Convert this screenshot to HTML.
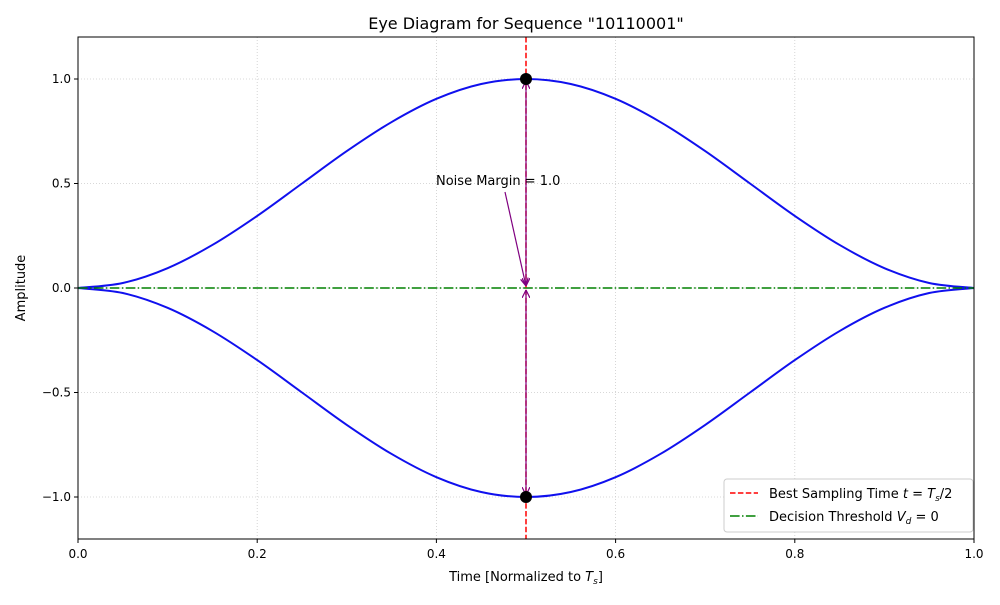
<!DOCTYPE html>
<html><head><meta charset="utf-8"><style>
body{margin:0;background:#fff}
svg text{font-family:"DejaVu Sans","Liberation Sans",sans-serif}
</style></head><body>
<svg id="c" width="1000" height="600" viewBox="0 0 1000 600" xmlns="http://www.w3.org/2000/svg">
<defs>
<marker id="ah" viewBox="0 0 10 10" refX="10" refY="5" markerWidth="8" markerHeight="8" orient="auto-start-reverse" markerUnits="userSpaceOnUse">
<path d="M0,0 L10,5 L0,10" fill="none" stroke="#800080" stroke-width="1.5"/></marker>
</defs>
<rect width="1000" height="600" fill="#fff"/>
<g id="grid"></g>
<g id="plot"></g>
<rect x="78" y="37" width="896" height="502" fill="none" stroke="#000" stroke-width="1"/>
<g id="axes"></g>
<text x="526" y="29" text-anchor="middle" font-size="16">Eye Diagram for Sequence "10110001"</text>
<text x="526" y="581" text-anchor="middle" font-size="13">Time [Normalized to <tspan font-style="italic">T</tspan><tspan font-style="italic" font-size="9" dy="3">s</tspan><tspan dy="-3">]</tspan></text>
<text transform="translate(25,288) rotate(-90)" text-anchor="middle" font-size="13">Amplitude</text>
<text x="436" y="185" font-size="13">Noise Margin = 1.0</text>
<g>
<rect x="724" y="479" width="249" height="53" rx="3" fill="#fff" stroke="#ccc"/>
<line x1="730" y1="493" x2="758" y2="493" stroke="red" stroke-width="1.5" stroke-dasharray="5.5,2.4"/>
<text x="769" y="498" font-size="13">Best Sampling Time <tspan font-style="italic">t</tspan> = <tspan font-style="italic">T</tspan><tspan font-style="italic" font-size="9" dy="3">s</tspan><tspan dy="-3">/2</tspan></text>
<line x1="730" y1="516" x2="758" y2="516" stroke="green" stroke-width="1.5" stroke-dasharray="9.6,2.4,1.5,2.4"/>
<text x="769" y="521" font-size="13">Decision Threshold <tspan font-style="italic">V</tspan><tspan font-style="italic" font-size="9" dy="3">d</tspan><tspan dy="-3"> = 0</tspan></text>
</g>
</svg>
<script>
const tValues=[0,0.05,0.1,0.15,0.2,0.25,0.3,0.35,0.4,0.45,0.5,0.55,0.6,0.65,0.7,0.75,0.8,0.85,0.9,0.95,1];
const upperEye=[0,0.024,0.095,0.206,0.345,0.5,0.655,0.794,0.905,0.976,1,0.976,0.905,0.794,0.655,0.5,0.345,0.206,0.095,0.024,0];
const lowerEye=[0,-0.024,-0.095,-0.206,-0.345,-0.5,-0.655,-0.794,-0.905,-0.976,-1,-0.976,-0.905,-0.794,-0.655,-0.5,-0.345,-0.206,-0.095,-0.024,0];
const xTicks=[0,0.2,0.4,0.6,0.8,1.0];
const xTickLabels=["0.0","0.2","0.4","0.6","0.8","1.0"];
const yTicks=[-1,-0.5,0,0.5,1];
const yTickLabels=["\u22121.0","\u22120.5","0.0","0.5","1.0"];
const samplingTime=[0.5];
const threshold=[0];
const samplePoints=[[0.5,1],[0.5,-1]];
const NS="http://www.w3.org/2000/svg";
const X=v=>78+v*896, Y=v=>288-v*209;
function mk(tag,attrs,parent){const e=document.createElementNS(NS,tag);for(const k in attrs)e.setAttribute(k,attrs[k]);document.getElementById(parent).appendChild(e);return e;}
xTicks.forEach((t,i)=>{
 let g=mk('line',{x1:X(t),x2:X(t),y1:37,y2:539,stroke:'#ccc','stroke-dasharray':'1,2','stroke-width':0.8},'grid');
 
 let tk=mk('line',{x1:X(t),x2:X(t),y1:539,y2:543,stroke:'#000'},'axes');
 
 let tx=mk('text',{x:X(t),y:558,'text-anchor':'middle','font-size':12},'axes');tx.textContent=xTickLabels[i];
 
});
yTicks.forEach((t,i)=>{
 let g=mk('line',{x1:78,x2:974,y1:Y(t),y2:Y(t),stroke:'#ccc','stroke-dasharray':'1,2','stroke-width':0.8},'grid');
 
 let tk=mk('line',{x1:74,x2:78,y1:Y(t),y2:Y(t),stroke:'#000'},'axes');
 
 let tx=mk('text',{x:71,y:Y(t)+4,'text-anchor':'end','font-size':12},'axes');tx.textContent=yTickLabels[i];
 
});
function smooth(xs,ys){const p=xs.map((x,i)=>[X(x),Y(ys[i])]);let d='M'+p[0][0]+','+p[0][1];
 for(let i=0;i<p.length-1;i++){const p0=p[i-1]||p[i],p1=p[i],p2=p[i+1],p3=p[i+2]||p2;
 d+=` C${p1[0]+(p2[0]-p0[0])/6},${p1[1]+(p2[1]-p0[1])/6} ${p2[0]-(p3[0]-p1[0])/6},${p2[1]-(p3[1]-p1[1])/6} ${p2[0]},${p2[1]}`;}return d;}
[[upperEye,'upper-eye-curve'],[lowerEye,'lower-eye-curve']].forEach(([s,n])=>{
 let e=mk('path',{d:smooth(tValues,s),fill:'none',stroke:'#1010ee','stroke-width':2},'plot');
 
});
threshold.forEach(v=>{let e=mk('line',{x1:78,x2:974,y1:Y(v),y2:Y(v),stroke:'green','stroke-width':1.5,'stroke-dasharray':'9.6,2.4,1.5,2.4'},'plot');
 });
samplingTime.forEach(v=>{let e=mk('line',{x1:X(v),x2:X(v),y1:37,y2:539,stroke:'red','stroke-width':1.5,'stroke-dasharray':'5.5,2.4'},'plot');
 });
let a1=mk('line',{x1:X(0.5),x2:X(0.5),y1:Y(1)+2,y2:Y(0)-2,stroke:'#800080','stroke-width':1.2,'marker-start':'url(#ah)','marker-end':'url(#ah)'},'plot');

let a2=mk('line',{x1:X(0.5),x2:X(0.5),y1:Y(0)+2,y2:Y(-1)-2,stroke:'#800080','stroke-width':1.2,'marker-start':'url(#ah)','marker-end':'url(#ah)'},'plot');

let a3=mk('line',{x1:505,y1:192,x2:X(0.5),y2:Y(0)-2,stroke:'#800080','stroke-width':1.2,'marker-end':'url(#ah)'},'plot');

samplePoints.forEach(p=>{let e=mk('circle',{cx:X(p[0]),cy:Y(p[1]),r:6,fill:'#000'},'plot');
 });
</script>
</body></html>
